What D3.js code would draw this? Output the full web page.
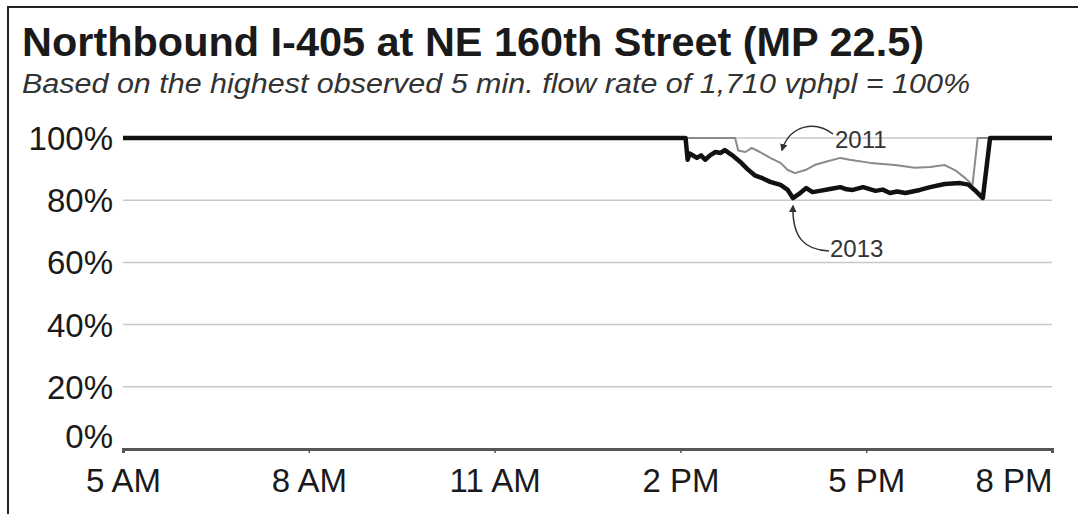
<!DOCTYPE html>
<html>
<head>
<meta charset="UTF-8" />
<title>Northbound I-405 at NE 160th Street</title>
<script src="https://d3js.org/d3.v7.min.js"></script>
<style>
body { margin: 0; background: #fff; }
text { font-family: "Liberation Sans", Arial, Helvetica, sans-serif; }
.grid line { stroke: #c8c8c8; stroke-width: 1.5; }
</style>
</head>
<body>
<div id="chart"></div>
<script>
// ---- data ----
var titleText = 'Northbound I-405 at NE 160th Street (MP 22.5)';
var subtitleText = 'Based on the highest observed 5 min. flow rate of 1,710 vphpl = 100%';

var yTicks = [0, 20, 40, 60, 80, 100];
var xTicks = ['05:00', '08:00', '11:00', '14:00', '17:00', '20:00'];

var times2013 = ['05:00', '14:05', '14:07', '14:09', '14:13', '14:16', '14:20', '14:24', '14:29', '14:34', '14:39',
                 '14:43', '14:50', '14:58', '15:05', '15:12', '15:20', '15:27', '15:37', '15:44', '15:49',
                 '15:56', '16:02', '16:08', '16:15', '16:25', '16:35', '16:41', '16:47', '16:57', '17:09',
                 '17:16', '17:23', '17:30', '17:38', '17:52', '18:02', '18:16', '18:31', '18:39', '18:45',
                 '18:53', '19:00', '20:00'];
var values2013 = [100, 100, 93, 95, 94.2, 93.6, 94.4, 93, 94.5, 95.5, 95.2,
                  96.1, 94.5, 92.3, 90, 88, 87, 85.9, 84.9, 83.3, 80.7,
                  82.3, 83.9, 82.6, 83, 83.6, 84.2, 83.5, 83.3, 84.2, 83,
                  83.4, 82.3, 82.8, 82.3, 83.3, 84.2, 85.2, 85.5, 85, 83.3,
                  80.7, 100, 100];

var times2011 = ['05:00', '14:53', '14:56', '15:03', '15:09', '15:17', '15:27', '15:37', '15:44', '15:51',
                 '16:01', '16:10', '16:20', '16:35', '16:44', '17:04', '17:28', '17:47', '18:02', '18:16',
                 '18:26', '18:36', '18:43', '18:48', '20:00'];
var values2011 = [100, 100, 96, 95.5, 96.8, 95.5, 93.6, 92, 89.7, 88.7,
                  89.7, 91.3, 92.3, 93.6, 93, 92, 91.3, 90.4, 90.7, 91.3,
                  89.7, 87.1, 84.9, 100, 100];

// ---- setup ----
var width = 1078, height = 514;
var plotLeft = 123, plotRight = 1052, plotTop = 138, plotBottom = 449;

var parseTime = d3.timeParse('%H:%M');

var svg = d3.select('#chart').append('svg')
    .attr('width', width)
    .attr('height', height);

// frame
svg.append('rect')
    .attr('x', 8).attr('y', 7)
    .attr('width', 1100).attr('height', 540)
    .attr('fill', 'none')
    .attr('stroke', '#222')
    .attr('stroke-width', 2);

svg.append('text')
    .attr('x', 22).attr('y', 56)
    .attr('font-size', 41)
    .attr('font-weight', 'bold')
    .attr('fill', '#1a1a1a')
    .attr('textLength', 902)
    .attr('lengthAdjust', 'spacingAndGlyphs')
    .text(titleText);

svg.append('text')
    .attr('x', 22).attr('y', 93)
    .attr('font-size', 27)
    .attr('font-style', 'italic')
    .attr('fill', '#333')
    .attr('textLength', 948)
    .attr('lengthAdjust', 'spacingAndGlyphs')
    .text(subtitleText);

var x = d3.scaleTime()
    .domain([parseTime('05:00'), parseTime('20:00')])
    .range([plotLeft, plotRight]);

var y = d3.scaleLinear()
    .domain([0, 100])
    .range([plotBottom, plotTop]);

// gridlines
svg.append('g')
    .attr('class', 'grid')
    .selectAll('line')
    .data(yTicks.filter(function(d) { return d > 0; }))
    .enter().append('line')
    .attr('x1', plotLeft).attr('x2', plotRight)
    .attr('y1', function(d) { return y(d); })
    .attr('y2', function(d) { return y(d); });

// y labels
svg.append('g')
    .selectAll('text')
    .data(yTicks)
    .enter().append('text')
    .attr('x', 113)
    .attr('y', function(d) { return d === 0 ? y(d) - 1 : y(d) + 12; })
    .attr('text-anchor', 'end')
    .attr('font-size', 33)
    .attr('fill', '#1a1a1a')
    .text(function(d) { return d + '%'; });

// x axis
var xAxis = d3.axisBottom(x)
    .tickValues(xTicks.map(parseTime))
    .tickFormat(d3.timeFormat('%-I %p'))
    .tickSize(4)
    .tickPadding(16);

var gx = svg.append('g')
    .attr('transform', 'translate(0,' + plotBottom + ')')
    .call(xAxis);
gx.select('.domain').attr('stroke', '#555').attr('stroke-width', 3);
gx.selectAll('.tick line').attr('stroke', '#555').attr('stroke-width', 1.5);
gx.selectAll('.tick text')
    .attr('font-size', 33)
    .attr('fill', '#1a1a1a')
    .attr('font-family', '"Liberation Sans", Arial, sans-serif')
    .attr('text-anchor', function(d, i) { return i === xTicks.length - 1 ? 'end' : 'middle'; });

// lines
var line = d3.line()
    .x(function(d) { return x(d.t); })
    .y(function(d) { return y(d.v); });

function series(times, values) {
    return times.map(function(t, i) { return { t: parseTime(t), v: values[i] }; });
}

svg.append('path')
    .datum(series(times2011, values2011))
    .attr('d', line)
    .attr('fill', 'none')
    .attr('stroke', '#8a8a8a')
    .attr('stroke-width', 2)
    .attr('stroke-linejoin', 'round');

svg.append('path')
    .datum(series(times2013, values2013))
    .attr('d', line)
    .attr('fill', 'none')
    .attr('stroke', '#111')
    .attr('stroke-width', 4.5)
    .attr('stroke-linejoin', 'round');

// annotations
svg.append('defs').append('marker')
    .attr('id', 'arrow')
    .attr('viewBox', '0 0 10 10')
    .attr('refX', 8).attr('refY', 5)
    .attr('markerWidth', 5).attr('markerHeight', 5)
    .attr('orient', 'auto')
    .append('path')
    .attr('d', 'M0,0L10,5L0,10z')
    .attr('fill', '#333');

svg.append('path')
    .attr('d', 'M833,134 C815,120 790,125 782,150')
    .attr('fill', 'none')
    .attr('stroke', '#333')
    .attr('stroke-width', 1.5)
    .attr('marker-end', 'url(#arrow)');

svg.append('path')
    .attr('d', 'M829,251 C805,250 792,238 793,206')
    .attr('fill', 'none')
    .attr('stroke', '#333')
    .attr('stroke-width', 1.5)
    .attr('marker-end', 'url(#arrow)');

svg.append('text')
    .attr('x', 835).attr('y', 148)
    .attr('font-size', 24)
    .attr('fill', '#333')
    .text('2011');

svg.append('text')
    .attr('x', 830).attr('y', 257)
    .attr('font-size', 24)
    .attr('fill', '#333')
    .text('2013');
</script>
</body>
</html>
